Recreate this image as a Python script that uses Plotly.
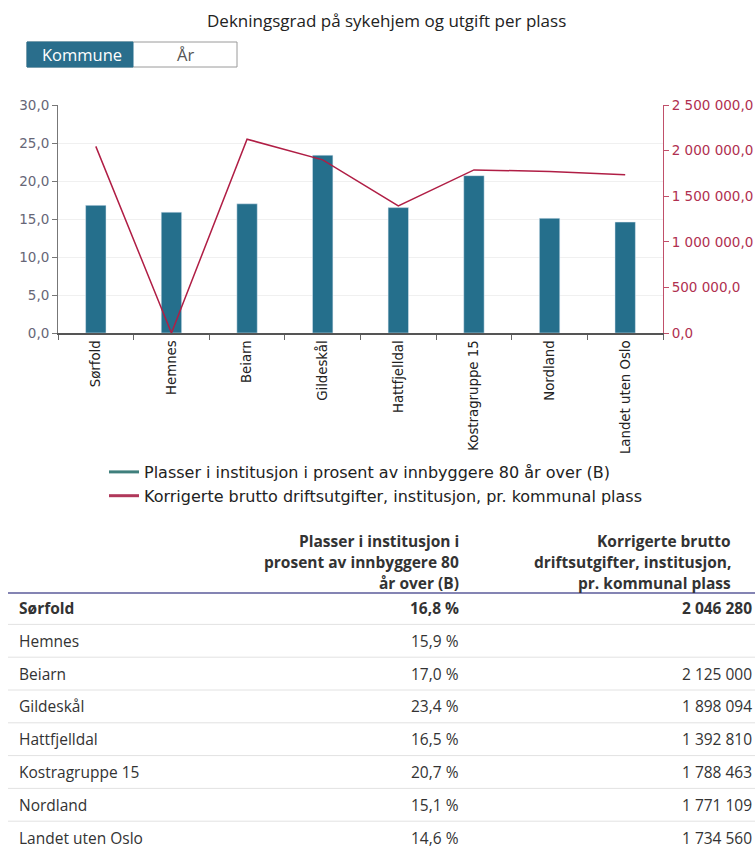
import plotly.graph_objects as go

# Data
kommuner = ["Sørfold", "Hemnes", "Beiarn", "Gildeskål", "Hattfjelldal",
            "Kostragruppe 15", "Nordland", "Landet uten Oslo"]
plasser_pct = [16.8, 15.9, 17.0, 23.4, 16.5, 20.7, 15.1, 14.6]
utgift_per_plass = [2046280, None, 2125000, 1898094, 1392810, 1788463, 1771109, 1734560]

serie_plasser = "Plasser i institusjon i prosent av innbyggere 80 år over (B)"
serie_utgift = "Korrigerte brutto driftsutgifter, institusjon, pr. kommunal plass"
tittel = "Dekningsgrad på sykehjem og utgift per plass"
header_plasser = ["Plasser i institusjon i", "prosent av innbyggere 80", "år over (B)"]
header_utgift = ["Korrigerte brutto", "driftsutgifter, institusjon,", "pr. kommunal plass"]

W, H = 755, 848
BAR = "#256f8c"
LINE = "#b01e45"
CHART_FONT = "DejaVu Sans"
PAGE_FONT = "Open Sans"


def px(x):
    return x / W


def py(y):
    return 1 - y / H


# Missing expenses are plotted at zero in the chart
utgift_chart = [v if v is not None else 0 for v in utgift_per_plass]

fig = go.Figure()
fig.add_trace(go.Bar(x=kommuner, y=plasser_pct, marker_color=BAR, width=0.27,
                     showlegend=False, name=serie_plasser, yaxis="y"))
fig.add_trace(go.Scatter(x=kommuner, y=utgift_chart, mode="lines",
                         line=dict(color=LINE, width=1.5), showlegend=False,
                         name=serie_utgift, yaxis="y2"))
# Legend entries drawn as short lines
fig.add_trace(go.Scatter(x=[None], y=[None], mode="lines", name=serie_plasser,
                         line=dict(color="#3f7f7c", width=3)))
fig.add_trace(go.Scatter(x=[None], y=[None], mode="lines", name=serie_utgift,
                         line=dict(color="#b0385a", width=3)))

annotations = []
shapes = []

# Title
annotations.append(dict(x=px(386), y=py(20), xref="paper", yref="paper", text=tittel,
                        showarrow=False, xanchor="center", yanchor="middle",
                        font=dict(family=PAGE_FONT, size=17, color="#222")))

# Toggle buttons
shapes.append(dict(type="rect", xref="paper", yref="paper", x0=px(27), x1=px(237),
                   y0=py(67), y1=py(42), line=dict(color="#9a9a9a", width=1),
                   fillcolor="white", layer="above"))
shapes.append(dict(type="rect", xref="paper", yref="paper", x0=px(27), x1=px(133),
                   y0=py(67), y1=py(42), line=dict(color="#266f8d", width=1),
                   fillcolor="#2a6e8c", layer="above"))
annotations.append(dict(x=px(82), y=py(54.5), xref="paper", yref="paper", text="Kommune",
                        showarrow=False, xanchor="center", yanchor="middle",
                        font=dict(family=PAGE_FONT, size=16.5, color="white")))
annotations.append(dict(x=px(185), y=py(54.5), xref="paper", yref="paper", text="År",
                        showarrow=False, xanchor="center", yanchor="middle",
                        font=dict(family=PAGE_FONT, size=16.5, color="#555")))

# Table header
col1_right = 461
col2_right = 733
for i, (a, b) in enumerate(zip(header_plasser, header_utgift)):
    y = 541 + i * 21
    annotations.append(dict(x=px(col1_right), y=py(y), xref="paper", yref="paper", text=f"<b>{a}</b>",
                            showarrow=False, xanchor="right", yanchor="middle",
                            font=dict(family=PAGE_FONT, size=15.5, color="#333")))
    annotations.append(dict(x=px(col2_right), y=py(y), xref="paper", yref="paper", text=f"<b>{b}</b>",
                            showarrow=False, xanchor="right", yanchor="middle",
                            font=dict(family=PAGE_FONT, size=15.5, color="#333")))
shapes.append(dict(type="line", xref="paper", yref="paper", x0=px(8), x1=1,
                   y0=py(593), y1=py(593), line=dict(color="#5b5b9a", width=1.5)))


def fmt_pct(v):
    return f"{v:.1f}".replace(".", ",") + " %"


def fmt_kr(v):
    if v is None:
        return ""
    return f"{v:,.0f}".replace(",", " ")


row_h = 32.8
for i, (navn, p, u) in enumerate(zip(kommuner, plasser_pct, utgift_per_plass)):
    y = 608 + i * row_h
    bold = i == 0
    wrap = (lambda s: f"<b>{s}</b>") if bold else (lambda s: s)
    font = dict(family=PAGE_FONT, size=15.5, color="#333")
    annotations.append(dict(x=px(17), y=py(y), xref="paper", yref="paper", text=wrap(navn),
                            showarrow=False, xanchor="left", yanchor="middle", font=font))
    annotations.append(dict(x=px(col1_right), y=py(y), xref="paper", yref="paper", text=wrap(fmt_pct(p)),
                            showarrow=False, xanchor="right", yanchor="middle", font=font))
    annotations.append(dict(x=px(754), y=py(y), xref="paper", yref="paper", text=wrap(fmt_kr(u)),
                            showarrow=False, xanchor="right", yanchor="middle", font=font))
    if i < len(kommuner) - 1:
        ys = y + row_h / 2
        shapes.append(dict(type="line", xref="paper", yref="paper", x0=px(8), x1=1,
                           y0=py(ys), y1=py(ys), line=dict(color="#e2e2e2", width=1)))

fig.update_layout(
    width=W, height=H,
    margin=dict(l=0, r=0, t=0, b=0, autoexpand=False),
    paper_bgcolor="white", plot_bgcolor="white",
    separators=", ",
    bargap=0.7,
    font=dict(family=CHART_FONT, size=12, color="#333"),
    xaxis=dict(domain=[px(58), px(663)], type="category", range=[-0.5, 7.5],
               tickangle=-90, tickson="boundaries", ticks="outside", ticklen=5,
               tickcolor="#666", showline=True, linecolor="#555", linewidth=2,
               tickfont=dict(family=CHART_FONT, size=13.3, color="#222"),
               showgrid=False, anchor="y", automargin=False),
    yaxis=dict(domain=[py(333), py(105)], range=[0, 30], dtick=5, tickformat=",.1f",
               showline=True, linecolor="#777", linewidth=1, ticks="outside",
               ticklen=5, tickcolor="#777", showgrid=True, gridcolor="#f0f0f0",
               tickfont=dict(family=CHART_FONT, size=13.5, color="#667"),
               zeroline=False, anchor="x", automargin=False),
    yaxis2=dict(domain=[py(333), py(105)], range=[0, 2500000], dtick=500000,
                tickformat=",.1f", overlaying="y", side="right", anchor="x",
                showline=True, linecolor="#c0506a", linewidth=1, ticks="outside",
                ticklen=5, tickcolor="#c0506a", showgrid=False, zeroline=False,
                tickfont=dict(family=CHART_FONT, size=13.5, color="#b03050"),
                automargin=False),
    legend=dict(x=px(104), y=py(455), xanchor="left", yanchor="top",
                font=dict(family=CHART_FONT, size=16, color="#222"),
                bgcolor="rgba(0,0,0,0)", itemwidth=30, tracegroupgap=0),
    annotations=annotations,
    shapes=shapes,
)

fig.write_html("out.html")
